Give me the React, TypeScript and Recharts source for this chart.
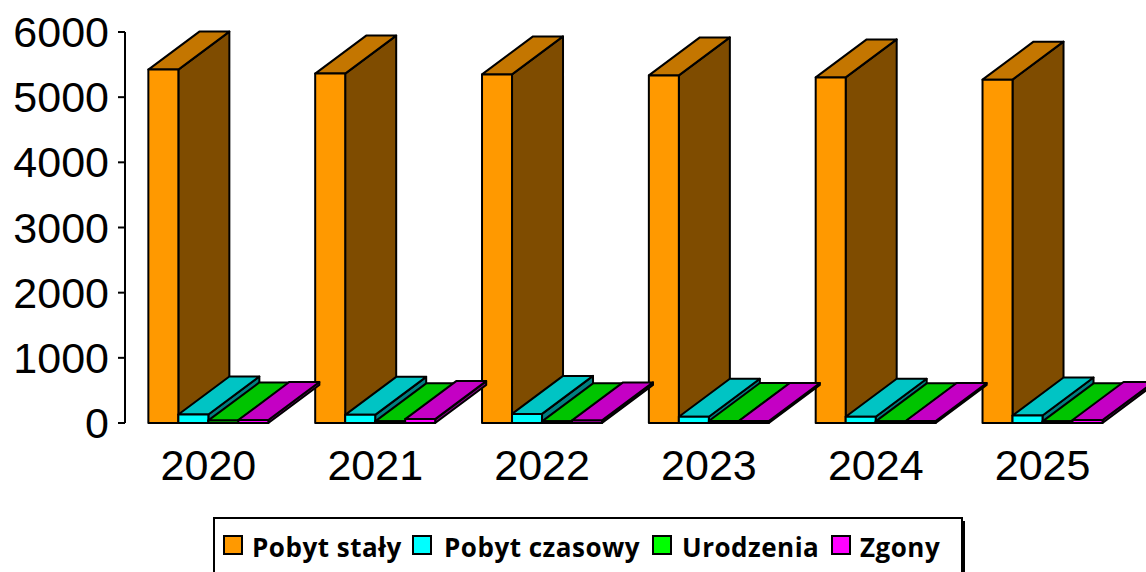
import React from 'react';
import { BarChart, Bar, XAxis, YAxis } from 'recharts';

const categories = ['2020', '2021', '2022', '2023', '2024', '2025'];
const pobytStaly = [5423, 5362, 5349, 5334, 5303, 5269];
const pobytCzasowy = [130, 125, 140, 95, 95, 115];
const urodzenia = [40, 25, 25, 30, 25, 25];
const zgony = [45, 60, 40, 30, 30, 45];
const yTicks = [0, 1000, 2000, 3000, 4000, 5000, 6000];

const seriesDefs = [
  { key: 'staly', name: 'Pobyt stały', front: '#FF9900', top: '#C47600', side: '#7F4C00' },
  { key: 'czasowy', name: 'Pobyt czasowy', front: '#00FFFF', top: '#00C4C4', side: '#008080' },
  { key: 'urodzenia', name: 'Urodzenia', front: '#00FF00', top: '#00C400', side: '#008000' },
  { key: 'zgony', name: 'Zgony', front: '#FF00FF', top: '#C400C4', side: '#800080' },
];

const data = categories.map((year, i) => ({
  year,
  staly: pobytStaly[i],
  czasowy: pobytCzasowy[i],
  urodzenia: urodzenia[i],
  zgony: zgony[i],
}));

// depth offset of the fake 3d boxes
const DX = 51;
const DY = 38;
const FONT = '"Liberation Sans", Arial, sans-serif';

const Box3D = (props: any) => {
  const { x, y, width, height, colors } = props;
  if (x == null || y == null) return null;
  const r = x + width;
  const b = y + height;
  const topPts = `${x},${y} ${x + DX},${y - DY} ${r + DX},${y - DY} ${r},${y}`;
  const sidePts = `${r},${y} ${r + DX},${y - DY} ${r + DX},${b - DY} ${r},${b}`;
  return (
    <g stroke="#000" strokeWidth={2} strokeLinejoin="round">
      <polygon points={sidePts} fill={colors.side} />
      <polygon points={topPts} fill={colors.top} />
      <rect x={x} y={y} width={width} height={height} fill={colors.front} />
    </g>
  );
};

const YTick = (props: any) => {
  const { x, y, payload } = props;
  return (
    <text x={x + 1} y={y} textAnchor="end" dominantBaseline="central" fontSize={43} fontFamily={FONT} fill="#000">
      {payload.value}
    </text>
  );
};

const XTick = (props: any) => {
  const { x, y, payload } = props;
  return (
    <text x={x} y={y + 57} textAnchor="middle" fontSize={43} fontFamily={FONT} fill="#000">
      {payload.value}
    </text>
  );
};

const legendItems = [
  { sq: 224, tx: 252 },
  { sq: 413, tx: 444 },
  { sq: 653, tx: 682 },
  { sq: 832, tx: 860 },
];

const App = () => {
  return (
    <div style={{ position: 'absolute', left: 0, top: 0, width: 1146, height: 572, background: '#fff', overflow: 'hidden' }}>
      <BarChart
        width={1146}
        height={572}
        data={data}
        margin={{ top: 32, right: 20, bottom: 89, left: 0 }}
        barCategoryGap="14%"
        barGap={0}
      >
        <XAxis dataKey="year" axisLine={false} tickLine={false} tickSize={0} tickMargin={0} height={60} tick={<XTick />} interval={0} />
        <YAxis
          domain={[0, 6000]}
          ticks={yTicks}
          width={125}
          axisLine={{ stroke: '#000', strokeWidth: 2 }}
          tickLine={{ stroke: '#000', strokeWidth: 2 }}
          tickSize={7}
          tickMargin={10}
          tick={<YTick />}
          interval={0}
        />
        {seriesDefs.map((s) => (
          <Bar
            key={s.key}
            dataKey={s.key}
            name={s.name}
            fill={s.front}
            isAnimationActive={false}
            shape={(p: any) => <Box3D {...p} colors={s} />}
          />
        ))}
      </BarChart>
      <svg width={1146} height={572} style={{ position: 'absolute', left: 0, top: 0, pointerEvents: 'none' }}>
        <rect x={217} y={521} width={748} height={80} fill="#000" />
        <rect x={214} y={518} width={748} height={80} fill="#fff" stroke="#000" strokeWidth={2} />
        {seriesDefs.map((s, i) => (
          <g key={s.key}>
            <rect x={legendItems[i].sq} y={536} width={18} height={18} fill={s.front} stroke="#000" strokeWidth={2} />
            <text
              x={legendItems[i].tx}
              y={557}
              fontSize={26}
              letterSpacing={0.5}
              fontWeight="bold"
              fontFamily='"Open Sans", sans-serif'
              fill="#000"
            >
              {s.name}
            </text>
          </g>
        ))}
      </svg>
    </div>
  );
};

export default App;
